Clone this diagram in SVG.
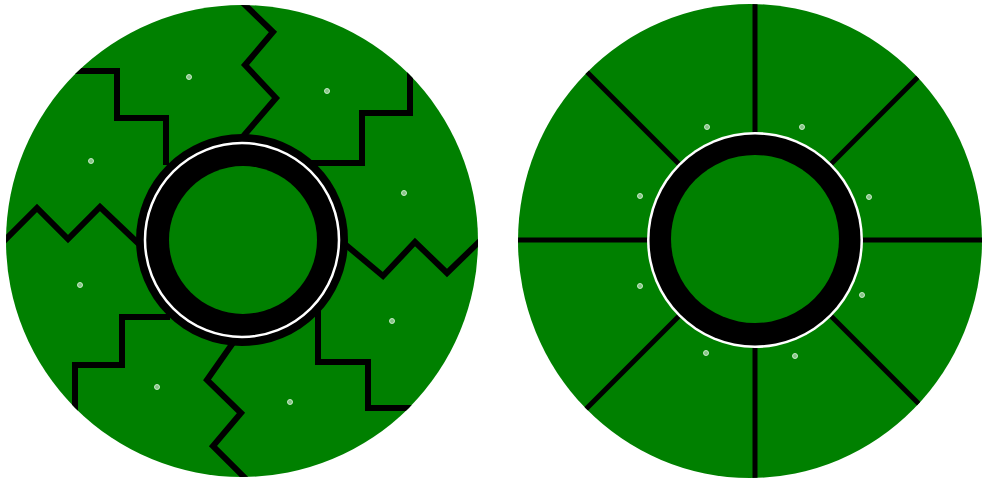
<svg xmlns="http://www.w3.org/2000/svg" width="985" height="479" viewBox="0 0 985 479">
<style>
.disc{fill:#008000}
.ln{fill:none;stroke:#000;stroke-width:6;stroke-linejoin:miter}
.rl{fill:none;stroke:#000;stroke-width:5}
.dot{fill:#86c486;stroke:#d6efd6;stroke-width:0.9}
</style>
<defs>
<clipPath id="cl"><circle cx="242" cy="241" r="236"/></clipPath>
<clipPath id="cr"><ellipse cx="750" cy="241" rx="232" ry="237"/></clipPath>
</defs>
<rect width="985" height="479" fill="#fff"/>
<g id="left-disc">
<circle class="disc" cx="242" cy="241" r="236"/>
<g id="left-connectors" clip-path="url(#cl)">
<path class="ln" d="M60,71 L117,71 L117,118 L166,118 L166,165"/>
<path class="ln" d="M0,245 L37,208 L68,239 L100,207 L140,245"/>
<path class="ln" d="M240,0 L273,32 L245,65 L276,98 L240,140"/>
<path class="ln" d="M410,60 L410,113 L362,113 L362,163 L300,163"/>
<path class="ln" d="M340,240 L383,276 L415,242 L447,273 L485,236"/>
<path class="ln" d="M318,300 L318,362 L368,362 L368,408 L420,408"/>
<path class="ln" d="M235,340 L207,380 L241,413 L213,446 L248,481"/>
<path class="ln" d="M170,317 L122,317 L122,365 L75,365 L75,420"/>
</g>
<g id="left-hub">
<circle cx="242" cy="240" r="106" fill="#000"/>
<circle cx="242" cy="240" r="97" fill="none" stroke="#fff" stroke-width="2.5"/>
<circle class="disc" cx="243" cy="240" r="74"/>
</g>
<g id="left-dots">
<circle class="dot" cx="189" cy="77" r="2.5"/>
<circle class="dot" cx="327" cy="91" r="2.5"/>
<circle class="dot" cx="91" cy="161" r="2.5"/>
<circle class="dot" cx="404" cy="193" r="2.5"/>
<circle class="dot" cx="80" cy="285" r="2.5"/>
<circle class="dot" cx="392" cy="321" r="2.5"/>
<circle class="dot" cx="157" cy="387" r="2.5"/>
<circle class="dot" cx="290" cy="402" r="2.5"/>
</g>
</g>
<g id="right-disc">
<ellipse class="disc" cx="750" cy="241" rx="232" ry="237"/>
<g id="right-connectors" clip-path="url(#cr)">
<path class="rl" d="M755,0 L755,479"/>
<path class="rl" d="M510,240 L985,240"/>
<path class="rl" d="M515,0 L995,480"/>
<path class="rl" d="M995,0 L515,480"/>
</g>
<g id="right-hub">
<circle cx="755" cy="240" r="108" fill="#fff"/>
<circle cx="755" cy="240" r="105.5" fill="#000"/>
<circle class="disc" cx="755" cy="239" r="84"/>
</g>
<g id="right-dots">
<circle class="dot" cx="707" cy="127" r="2.5"/>
<circle class="dot" cx="802" cy="127" r="2.5"/>
<circle class="dot" cx="640" cy="196" r="2.5"/>
<circle class="dot" cx="869" cy="197" r="2.5"/>
<circle class="dot" cx="640" cy="286" r="2.5"/>
<circle class="dot" cx="862" cy="295" r="2.5"/>
<circle class="dot" cx="706" cy="353" r="2.5"/>
<circle class="dot" cx="795" cy="356" r="2.5"/>
</g>
</g>
</svg>
